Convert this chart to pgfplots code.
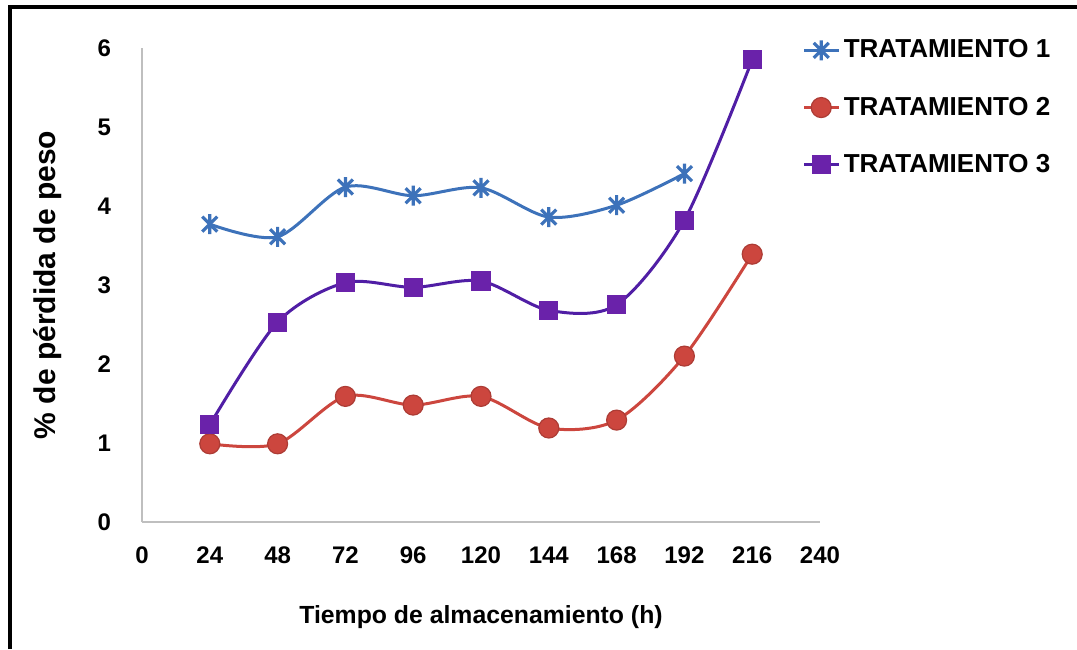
\documentclass[border=0pt]{standalone}
\usepackage{pgfplots}
\pgfplotsset{compat=1.18}
\usepackage{fontspec}
\setmainfont{Liberation Sans}
\definecolor{tblue}{RGB}{61,114,186}
\definecolor{tred}{RGB}{204,70,62}
\definecolor{tpurp}{RGB}{106,34,170}
\definecolor{tpurpline}{RGB}{80,30,165}
% Excel-style star: an x with a vertical stroke
\pgfdeclareplotmark{xstar}{%
  \pgfpathmoveto{\pgfqpoint{0pt}{\pgfplotmarksize}}%
  \pgfpathlineto{\pgfqpoint{0pt}{-\pgfplotmarksize}}%
  \pgfpathmoveto{\pgfqpoint{-0.75\pgfplotmarksize}{0.75\pgfplotmarksize}}%
  \pgfpathlineto{\pgfqpoint{0.75\pgfplotmarksize}{-0.75\pgfplotmarksize}}%
  \pgfpathmoveto{\pgfqpoint{-0.75\pgfplotmarksize}{-0.75\pgfplotmarksize}}%
  \pgfpathlineto{\pgfqpoint{0.75\pgfplotmarksize}{0.75\pgfplotmarksize}}%
  \pgfusepathqstroke}
\begin{document}
\begin{tikzpicture}
% frame: 1px = 0.5pt, picture 1077x649 px
\useasboundingbox (0,0) rectangle (538.5pt,324.5pt);
\draw[line width=2pt] (5pt,0) -- (5pt,321pt) -- (538.5pt,321pt);
\begin{axis}[
  at={(71pt,63.5pt)}, anchor=south west,
  width=339pt, height=237pt, scale only axis,
  xmin=0, xmax=240, ymin=0, ymax=6,
  xtick={0,24,...,240}, ytick={0,1,...,6},
  axis x line*=bottom, axis y line*=left,
  axis line style={draw=black!25, line width=0.6pt},
  tick style={draw=none},
  ticklabel style={font=\fontsize{12}{12}\selectfont\bfseries},
  /pgf/number format/assume math mode=true,
  xticklabel style={yshift=-9pt},
  yticklabel style={xshift=-12pt},
  xlabel={Tiempo de almacenamiento (h)},
  xlabel style={font=\fontsize{12.4}{12}\selectfont\bfseries, yshift=-14pt},
  ylabel={\% de pérdida de peso},
  ylabel style={font=\fontsize{15}{15}\selectfont\bfseries, yshift=11pt},
  legend style={draw=none, fill=none, at={(0.965,1.035)}, anchor=north west,
    font=\fontsize{13}{13}\selectfont\bfseries, row sep=14pt,
    nodes={inner xsep=2pt}},
  legend cell align=left,
  every axis plot/.append style={line width=1.5pt, smooth, tension=0.5},
]
\addplot[tblue, mark=xstar, mark size=5pt, mark options={line width=1.6pt}]
  coordinates {(24,3.77) (48,3.61) (72,4.24) (96,4.13) (120,4.23) (144,3.86) (168,4.01) (192,4.41)};
\addlegendentry{TRATAMIENTO 1}
\addplot[tred, mark=*, mark size=5pt, mark options={fill=tred, draw=tred!85!black, line width=0.6pt}]
  coordinates {(24,0.99) (48,0.99) (72,1.59) (96,1.48) (120,1.59) (144,1.19) (168,1.29) (192,2.10) (216,3.39)};
\addlegendentry{TRATAMIENTO 2}
\addplot[tpurpline, mark=square*, mark size=4.5pt, mark options={fill=tpurp, draw=tpurp, line width=0.6pt}]
  coordinates {(24,1.23) (48,2.53) (72,3.03) (96,2.97) (120,3.05) (144,2.68) (168,2.75) (192,3.82) (216,5.85)};
\addlegendentry{TRATAMIENTO 3}
\end{axis}
\end{tikzpicture}
\end{document}
